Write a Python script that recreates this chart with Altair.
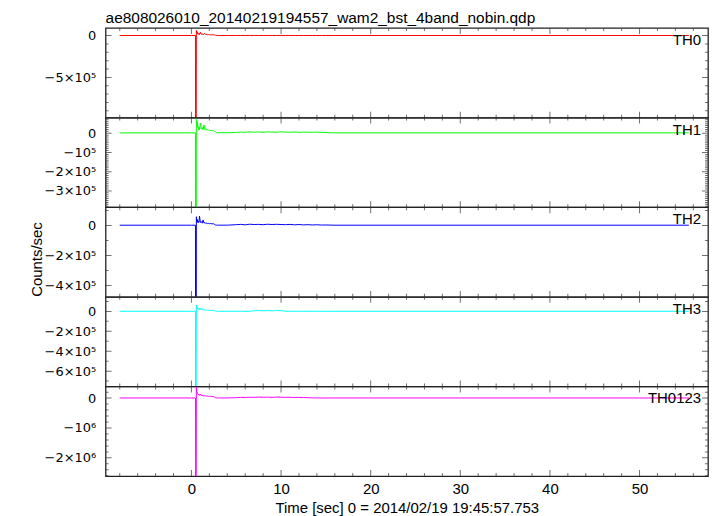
import altair as alt
import pandas as pd
import numpy as np

# ---------------- data ----------------
times = [-8.0, 0.0, 0.45, 0.5, 0.55, 0.6, 0.65, 0.7, 0.75, 0.8,
         0.85, 0.9, 1.0, 1.1, 1.2, 1.3, 1.4, 1.5, 1.6, 1.7,
         1.8, 1.9, 2.0, 2.1, 2.2, 2.3, 2.4, 2.5, 2.6, 2.7,
         2.8, 3.0, 4.0, 5.0, 5.5, 6.0, 6.5, 7.0, 7.5, 8.0,
         8.5, 9.0, 9.5, 10.0, 10.5, 11.0, 11.5, 12.0, 12.5, 13.0,
         13.5, 14.0, 14.5, 15.0, 16.0, 55.5]

th0 = [1000, 1000, 1000, -5e6, 60000, 30000, 45000, 20000, 25000, 15000,
       30000, 12000, 40000, 15000, 20000, 12000, 18000, 25000, 12000, 15000,
       10000, 12000, 9000, 11000, 8000, 10000, 8000, 9000, 7000, 3000,
       1500, 1200, 1000, 1200, 1500, 1000, 1300, 1100, 1400, 1000,
       1200, 1000, 1300, 1100, 1000, 1200, 1000, 1100, 1000, 1000,
       1000, 1000, 1000, 1000, 1000, 1000]

th1 = [2000, 2000, 2000, -5e6, 72000, 40000, 60000, 30000, 35000, 20000,
       28000, 18000, 53000, 22000, 30000, 18000, 43000, 20000, 25000, 16000,
       20000, 15000, 18000, 14000, 16000, 13000, 15000, 12000, 10000, 5000,
       3000, 3000, 2500, 4000, 6000, 5000, 7000, 5500, 6500, 5000,
       7000, 6000, 5000, 7500, 6000, 5500, 6500, 5000, 6000, 5500,
       5000, 6000, 4500, 3500, 2000, 2000]

th2 = [1500, 1500, 1500, -5e6, 58000, 25000, 40000, 20000, 30000, 18000,
       25000, 62000, 20000, 25000, 15000, 36000, 15000, 20000, 13000, 15000,
       12000, 14000, 12000, 13000, 11000, 12000, 10000, 11000, 6000, 2500,
       2000, 1800, 1800, 5000, 7000, 4000, 8000, 6000, 7000, 5000,
       8000, 6000, 7500, 6000, 5000, 7000, 4000, 6000, 3500, 5000,
       3000, 4500, 2500, 3000, 1500, 1500]

th3 = [1000, 1000, 1000, -5e6, 63000, 35000, 47000, 25000, 30000, 20000,
       28000, 18000, 30000, 15000, 28000, 14000, 20000, 12000, 15000, 11000,
       13000, 10000, 12000, 10000, 11000, 9000, 10000, 9000, 7000, 2000,
       1500, 1200, 1000, 1200, 1500, 1200, 1500, 6000, 9000, 5000,
       8000, 6000, 9000, 7000, 2000, 1500, 1200, 1000, 1200, 1000,
       1000, 1000, 1000, 1000, 1000, 1000]

th0123 = [5000, 5000, 5000, -9e6, 370000, 220000, 200000, 150000, 140000, 100000,
          120000, 90000, 140000, 80000, 100000, 75000, 90000, 70000, 80000, 65000,
          70000, 60000, 65000, 55000, 60000, 50000, 55000, 45000, 30000, 10000,
          7000, 6000, 6000, 15000, 25000, 20000, 30000, 25000, 35000, 28000,
          32000, 25000, 35000, 30000, 25000, 28000, 20000, 25000, 18000, 15000,
          8000, 6000, 5000, 5000, 5000, 5000]

series = [th0, th1, th2, th3, th0123]
names = ["TH0", "TH1", "TH2", "TH3", "TH0123"]
colors = ["#ff0000", "#00ff00", "#0000ff", "#00ffff", "#ff00ff"]

y_domains = [[-9.81e5, 0.905e5], [-3.85e5, 0.813e5], [-4.75e5, 1.21e5],
             [-7.54e5, 1.46e5], [-2.61e6, 0.39e6]]
y_major = [[0, -5e5], [0, -1e5, -2e5, -3e5], [0, -2e5, -4e5],
           [0, -2e5, -4e5, -6e5], [0, -1e6, -2e6]]
y_major_labels = [["0", "−5×10⁵"], ["0", "−10⁵", "−2×10⁵", "−3×10⁵"],
                  ["0", "−2×10⁵", "−4×10⁵"], ["0", "−2×10⁵", "−4×10⁵", "−6×10⁵"],
                  ["0", "−10⁶", "−2×10⁶"]]
y_minor_step = [1e5, 1e4, 1e5, 1e5, 2e5]

x_domain = [-9.58, 57.64]
x_major = [0, 10, 20, 30, 40, 50]
x_minor = [v for v in range(-8, 58, 2) if v % 10 != 0]

title_text = "ae808026010_20140219194557_wam2_bst_4band_nobin.qdp"
x_title = "Time [sec] 0 = 2014/02/19 19:45:57.753"
y_title = "Counts/sec"

# ---------------- chart ----------------
W, H = 605, 90
FONT = "Liberation Sans"
YFONT = "DejaVu Sans"
TICKC = "#333333"
MAJ, MIN = 12, 6


def label_expr(vals, labs):
    parts = []
    for v, l in zip(vals, labs):
        parts.append(f"abs(datum.value - ({v:.1f})) < 1 ? '{l}'")
    return " : ".join(parts) + " : ''"


def panel(i):
    xs = alt.Scale(domain=x_domain, nice=False, zero=False)
    ys = alt.Scale(domain=y_domains[i], nice=False, zero=False)
    df = pd.DataFrame({"t": times, "v": series[i]})

    yaxis_kw = dict(values=y_major[i], labelExpr=label_expr(y_major[i], y_major_labels[i]),
                    tickSize=0, domain=False, grid=False, labelPadding=10,
                    labelFontSize=13, labelFont=YFONT, labelColor="black")
    if i == 2:
        yaxis_kw.update(title=y_title, titleFontSize=15, titleFont=FONT,
                        titleFontWeight="normal", titlePadding=0, titleColor="black",
                        titleY=52)
    else:
        yaxis_kw.update(title=None)
    yaxis = alt.Axis(**yaxis_kw)

    if i == 4:
        xaxis = alt.Axis(values=x_major, format="d", tickSize=0, domain=False, grid=False,
                         labelPadding=5, labelFontSize=15, labelFont=FONT, labelColor="black",
                         title=x_title, titleFontSize=15, titleFont=FONT,
                         titleFontWeight="normal", titlePadding=5, titleColor="black")
    else:
        xaxis = None

    line = alt.Chart(df).mark_line(clip=True, color=colors[i], strokeWidth=1).encode(
        x=alt.X("t:Q", scale=xs, axis=xaxis),
        y=alt.Y("v:Q", scale=ys, axis=yaxis),
    )

    xt = pd.DataFrame({"xv": x_major + x_minor,
                       "len": [MAJ] * len(x_major) + [MIN] * len(x_minor)})
    xtop = alt.Chart(xt).mark_tick(clip=True, color=TICKC, thickness=1).encode(
        x=alt.X("xv:Q", scale=xs, axis=xaxis), y=alt.value(0),
        size=alt.Size("len:Q", scale=None, legend=None))
    xbot = alt.Chart(xt).mark_tick(clip=True, color=TICKC, thickness=1).encode(
        x=alt.X("xv:Q", scale=xs, axis=xaxis), y=alt.value(H),
        size=alt.Size("len:Q", scale=None, legend=None))

    step = y_minor_step[i]
    lo, hi = y_domains[i]
    minor = [float(v) for v in np.arange(np.ceil(lo / step) * step, hi, step)
             if min(abs(v - m) for m in y_major[i]) > 1]
    yt = pd.DataFrame({"yv": list(map(float, y_major[i])) + minor,
                       "len": [MAJ] * len(y_major[i]) + [MIN] * len(minor)})
    yleft = alt.Chart(yt).mark_tick(clip=True, color=TICKC, thickness=1).encode(
        y=alt.Y("yv:Q", scale=ys, axis=yaxis), x=alt.value(0),
        size=alt.Size("len:Q", scale=None, legend=None))
    yright = alt.Chart(yt).mark_tick(clip=True, color=TICKC, thickness=1).encode(
        y=alt.Y("yv:Q", scale=ys, axis=yaxis), x=alt.value(W),
        size=alt.Size("len:Q", scale=None, legend=None))

    txt = alt.Chart(pd.DataFrame({"name": [names[i]]})).mark_text(
        align="right", baseline="middle", fontSize=15, font=FONT, color="black"
    ).encode(x=alt.value(W - 7), y=alt.value(12), text="name:N")

    props = dict(width=W, height=H)
    if i == 0:
        props["title"] = alt.TitleParams(text=title_text, anchor="start", fontSize=15.5,
                                         font=FONT, fontWeight="normal", offset=2,
                                         color="black", frame="group")
    return alt.layer(line, xtop, xbot, yleft, yright, txt).properties(**props)


chart = alt.vconcat(*[panel(i) for i in range(5)], spacing=0, bounds="flush").properties(
    padding={"left": 20, "top": 0, "right": 0, "bottom": 0}
).configure_view(stroke="#222222", strokeWidth=1.3)

chart.save("out.html", embed_options={"renderer": "svg", "actions": False})
